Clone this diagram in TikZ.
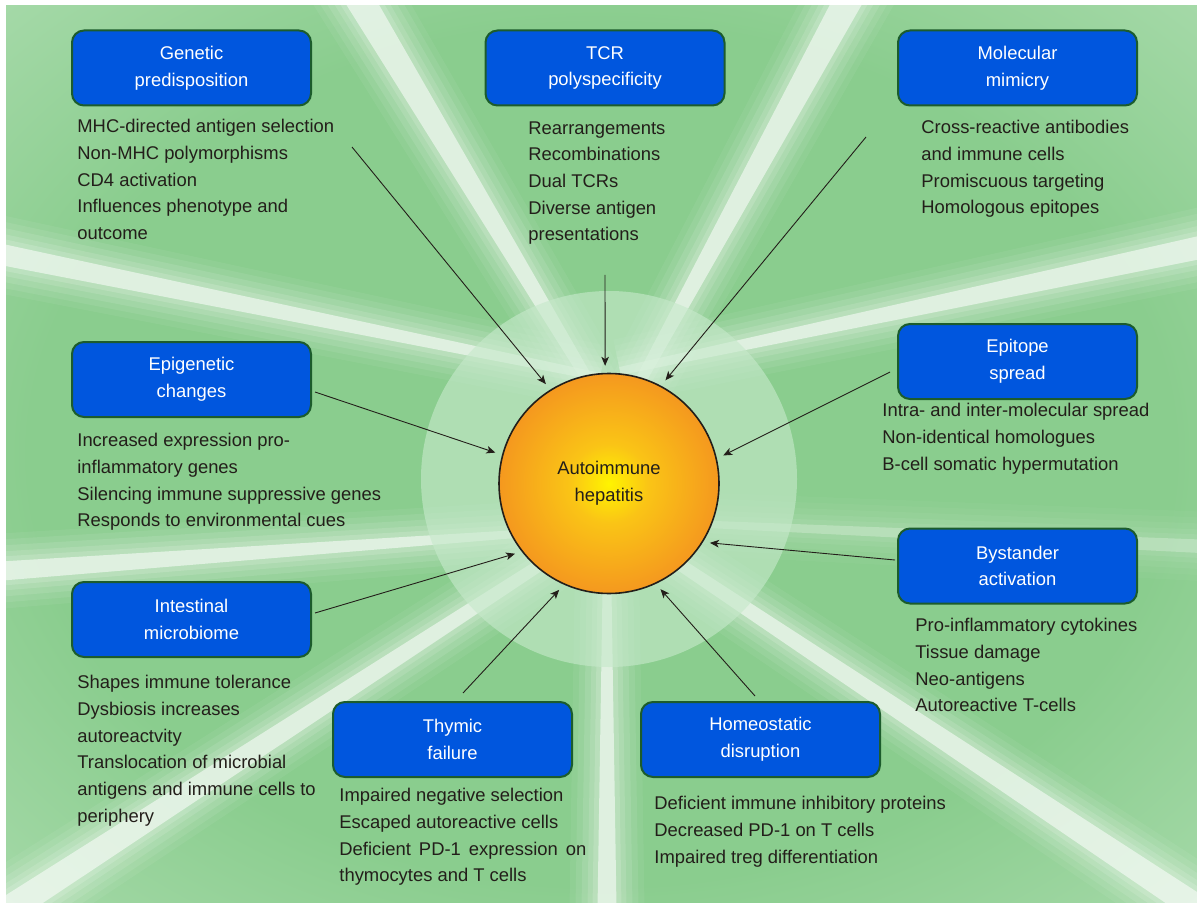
\documentclass[tikz,border=0pt]{standalone}
\usepackage{fontspec}
\setmainfont{Liberation Sans}
\usepackage{tikz}
\usetikzlibrary{calc,arrows.meta}

\definecolor{boxblue}{RGB}{0,86,222}
\definecolor{boxrim}{RGB}{28,92,44}
\definecolor{leaf}{RGB}{138,205,142}
\definecolor{paleleaf}{RGB}{198,232,200}
\definecolor{halo}{RGB}{198,233,203}
\definecolor{ink}{RGB}{35,30,26}
\definecolor{sunA}{RGB}{255,244,0}
\definecolor{sunB}{RGB}{250,196,22}
\definecolor{sunC}{RGB}{245,155,30}
\definecolor{sunD}{RGB}{234,108,22}
\definecolor{sunE}{RGB}{218,76,18}

\pgfdeclareradialshading{meadow}{\pgfpoint{0bp}{0bp}}{color(0bp)=(leaf); color(24bp)=(leaf); color(50bp)=(paleleaf); color(100bp)=(paleleaf)}
\pgfdeclareradialshading{liver}{\pgfpoint{0bp}{0bp}}{color(0bp)=(sunA); color(9bp)=(sunB); color(24bp)=(sunC); color(38bp)=(sunD); color(50bp)=(sunE); color(100bp)=(sunE)}

\begin{document}
\begin{tikzpicture}[x=0.5pt, y=-0.5pt,
	font=\fontsize{9.2pt}{13.35pt}\selectfont,
	cause/.style={draw=boxrim, line width=1pt, fill=boxblue, rounded corners=6pt,
		text=white, align=center, minimum width=119.5pt, minimum height=37.5pt, inner sep=0pt},
	facts/.style={anchor=north west, align=left, inner sep=0pt, text=ink},
	arr/.style={draw=ink, line width=0.45pt,
		-{Stealth[length=4.5pt,width=3.8pt,inset=1.2pt]}, shorten >=3.5pt}]
	\useasboundingbox (0,0) rectangle (1197,903);
	\fill[white] (0,0) rectangle (1197,903);
	\shade[shading=meadow] (6,6) rectangle (1197,903);
	%
	% light rays: inner x/y, outer x/y, half widths (pt), strength
	\foreach \ax/\ay/\bx/\by/\w/\v/\k in {600/400/336/-40/2.5/7.5/1, 630/400/870/-40/2.5/7.5/1,
		600/377/-40/246/2/5.5/1, 620/371/1240/239/2/6/1, 600/528/-40/574/1.5/5/1,
		600/526/-20/928/2.5/7/1, 607/560/607/940/2/5/1, 610/518/1230/930/2.5/7/1,
		610/520/1240/548/1.5/3.5/.45}
	{
		\foreach \s/\o in {14/.06, 11/.08, 8/.1, 5/.12, 2.5/.15, 0/.55}
			\fill[white, opacity=\k*\o] ($(\ax,\ay)!\w pt+\s pt!90:(\bx,\by)$) -- ($(\bx,\by)!\v pt+\s pt!-90:(\ax,\ay)$)
				-- ($(\bx,\by)!\v pt+\s pt!90:(\ax,\ay)$) -- ($(\ax,\ay)!\w pt+\s pt!-90:(\bx,\by)$) -- cycle;
	}
	\fill[halo, opacity=.62] (609,479) circle (94pt);
	%
	\node[circle, shade, shading=liver, draw=ink, line width=0.8pt, minimum size=110pt,
		align=center, text=ink] (aih) at (609,483.5) {Autoimmune\\hepatitis};
	%
	\node[cause] (gen) at (191.5,68) {Genetic\\predisposition};
	\node[cause] (tcr) at (605,68) {TCR\\polyspecificity};
	\node[cause] (mol) at (1017.5,68) {Molecular\\mimicry};
	\node[cause] (epi) at (191.5,379.5) {Epigenetic\\changes};
	\node[cause] (spr) at (1017.5,361.5) {Epitope\\spread};
	\node[cause] (bys) at (1017.5,566) {Bystander\\activation};
	\node[cause] (gut) at (191.5,619.5) {Intestinal\\microbiome};
	\node[cause] (thy) at (452.5,739.5) {Thymic\\failure};
	\node[cause] (hom) at (760.5,739.5) {Homeostatic\\disruption};
	%
	\node[facts] (gen-l) at (77,119) {MHC-directed antigen selection\\Non-MHC polymorphisms\\CD4 activation\\Influences phenotype and\\outcome};
	\node[facts] (tcr-l) at (528,121) {Rearrangements\\Recombinations\\Dual TCRs\\Diverse antigen\\presentations};
	\node[facts] (mol-l) at (921,120) {Cross-reactive antibodies\\and immune cells\\Promiscuous targeting\\Homologous epitopes};
	\node[facts] (epi-l) at (77,433) {Increased expression pro-\\inflammatory genes\\Silencing immune suppressive genes\\Responds to environmental cues};
	\node[facts] (spr-l) at (882,403) {Intra- and inter-molecular spread\\Non-identical homologues\\B-cell somatic hypermutation};
	\node[facts] (bys-l) at (915,618) {Pro-inflammatory cytokines\\Tissue damage\\Neo-antigens\\Autoreactive T-cells};
	\node[facts] (gut-l) at (77,675) {Shapes immune tolerance\\Dysbiosis increases\\autoreactvity\\Translocation of microbial\\antigens and immune cells to\\periphery};
	\node[facts] (thy-l) at (339,788) {Impaired negative selection\\Escaped autoreactive cells\\\makebox[123.5pt][s]{Deficient PD-1 expression on}\\thymocytes and T cells};
	\node[facts] (hom-l) at (654,796) {Deficient immune inhibitory proteins\\Decreased PD-1 on T cells\\Impaired treg differentiation};
	%
	\coordinate (t1) at (352,147);
	\coordinate (t2) at (605,275);
	\coordinate (t3) at (866,137);
	\coordinate (t4) at (315,392);
	\coordinate (t5) at (890,372);
	\coordinate (t6) at (895,560);
	\coordinate (t7) at (315,613);
	\coordinate (t8) at (463,693);
	\coordinate (t9) at (755,696);
	%
	\draw [arr] (t1) to (aih.122);
	\draw [arr] (t2) to (aih.92);
	\draw [arr] (t3) to (aih.62);
	\draw [arr] (t4) to (aih.165);
	\draw [arr] (t5) to (aih.13);
	\draw [arr] (t6) to (aih.328);
	\draw [arr] (t7) to (aih.218);
	\draw [arr] (t8) to (aih.246);
	\draw [arr] (t9) to (aih.295);
\end{tikzpicture}
\end{document}
